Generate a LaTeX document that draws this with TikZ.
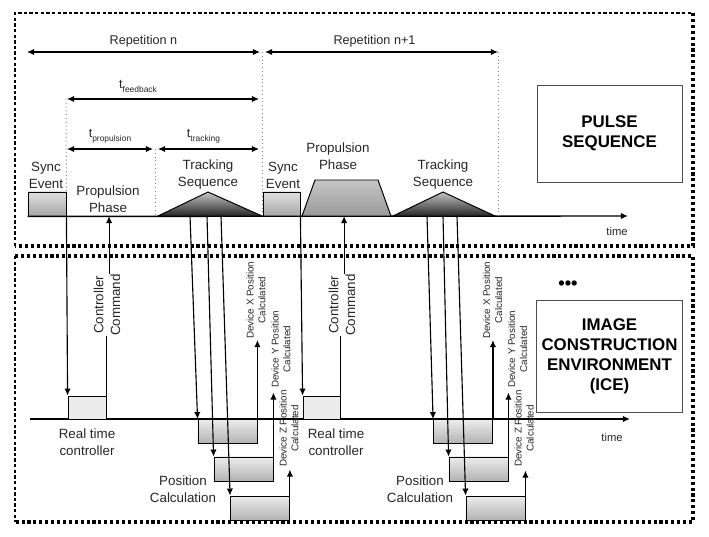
\documentclass[tikz,border=0pt]{standalone}
\usepackage{fontspec}
\setmainfont{Liberation Sans}
\usetikzlibrary{positioning}
\usetikzlibrary{arrows.meta}
\begin{document}
\begin{tikzpicture}[
		x=0.025cm, y=-0.025cm,
		>={Latex[length=5pt, width=4.5pt]},
		every node/.style={text=black!85},
		conn/.style={line width=0.8pt},
		guide/.style={draw=gray, dotted, line width=0.7pt},
		thindash/.style={line width=1.1pt, dash pattern=on 2.4pt off 1.6pt},
		thickdot/.style={line width=2.6pt, dash pattern=on 2.2pt off 2pt},
		lbl/.style={font=\fontsize{9.5}{12}\selectfont, align=center, inner sep=0pt},
		replbl/.style={font=\fontsize{9}{11}\selectfont, inner sep=0pt},
		devlbl/.style={font=\fontsize{7}{8.5}\selectfont, align=center, rotate=90, anchor=west, inner sep=0pt},
		timelbl/.style={font=\fontsize{8}{10}\selectfont, inner sep=0pt},
		syncbox/.style={rectangle, draw, line width=0.6pt, top color=gray!25, bottom color=gray!70, minimum width=0.95cm, minimum height=0.6cm, inner sep=0pt},
		ctrlbox/.style={rectangle, draw, line width=0.6pt, fill=gray!15, minimum width=0.95cm, minimum height=0.575cm, inner sep=0pt},
		posbox/.style={rectangle, draw, line width=0.6pt, top color=gray!15, bottom color=gray!60, minimum width=1.475cm, minimum height=0.6cm, inner sep=0pt},
		infobox/.style={rectangle, draw=black!70, line width=0.6pt, minimum width=3.625cm, align=center, text=black, font=\fontsize{12}{14.2}\selectfont\bfseries}
	]
		\useasboundingbox (0,0) rectangle (709,537);
		
		% frames
		\draw[thindash] (15,246) -- (15,13) -- (693,13);
		\draw[thickdot] (693,13) -- (693,246) -- (15,246);
		\draw[thickdot] (15,256) -- (693,256) -- (693,522) -- (15,522);
		\draw[thindash] (15,256) -- (15,522);
		
		% pulse sequence
		\draw node[syncbox](S1) at (47,204){};
		\draw node[syncbox, minimum width=0.925cm](S2) at (281.5,204){};
		\draw[conn, line width=1pt, ->] (S1.south west) -- (628,216) coordinate(T1);
		\node[timelbl] (timeT) at (617,231) {time};
		
		\draw[line width=0.7pt, top color=gray!45, bottom color=black!85] (158,216) -- (208,192) coordinate(TR1) -- (262,216) -- cycle;
		\draw[line width=0.7pt, top color=gray!45, bottom color=gray!80] (302,216) -- (315,180) -- (378,180) -- (391,216) -- cycle;
		\draw[line width=0.7pt, top color=gray!45, bottom color=black!85] (393,216) -- (443,192) coordinate(TR2) -- (495,216) -- cycle;
		
		\node[lbl] (SE1) at (46,175) {Sync\\Event};
		\node[lbl] (PP1) at (108,199) {Propulsion\\Phase};
		\node[lbl] (TS1) at (208,174.5) {Tracking\\Sequence};
		\node[lbl] (SE2) at (283,175) {Sync\\Event};
		\node[lbl] (PP2) at (338,156.5) {Propulsion\\Phase};
		\node[lbl] (TS2) at (443,174.5) {Tracking\\Sequence};
		
		\node[infobox, minimum height=2.425cm] (PS) at (609.5,133.5) {PULSE\\SEQUENCE};
		
		% timing
		\draw[guide] (262,52) -- (262,216);
		\draw[guide] (498,52) -- (498,216);
		\draw[guide] (66,99) -- (S1.north east);
		\draw[guide] (155,149) -- (155,216);
		
		\draw[conn, <->] (27,52) -- node[replbl, above=3pt](RN){Repetition n} (260,52);
		\draw[conn, <->] (265,52) -- node[replbl, pos=0.47, above=3pt](RN1){Repetition n+1} (498,52);
		\draw[conn, <->] (67,99) -- node[replbl, pos=0.37, above=4pt](TF){t\raisebox{-0.3em}{\fontsize{6}{7}\selectfont feedback}} (259,99);
		\draw[conn, <->] (67,149) -- node[replbl, above=4pt](TP){t\raisebox{-0.3em}{\fontsize{6}{7}\selectfont propulsion}} (153,149);
		\draw[conn, <->] (158,149) -- node[replbl, pos=0.45, above=4pt](TT){t\raisebox{-0.3em}{\fontsize{6}{7}\selectfont tracking}} (259,149);
		
		% image construction environment
		\draw[conn, line width=1pt, ->] (30,419) -- (630,419) coordinate(B1);
		\node[timelbl] (timeB) at (612,437) {time};
		\node[infobox, minimum height=2.8cm] (ICE) at (609.5,356) {IMAGE\\CONSTRUCTION\\ENVIRONMENT\\(ICE)};
		\node[font=\fontsize{13}{13}\selectfont\bfseries, text=black] (dots) at (568,285) {•••};
		
		\draw node[ctrlbox](RT1) at (87,407.5){};
		\draw node[ctrlbox, minimum width=0.925cm](RT2) at (321.5,407.5){};
		\node[lbl] (RTL1) at (87,442) {Real time\\controller};
		\node[lbl] (RTL2) at (336,442) {Real time\\controller};
		
		\draw node[posbox](PX1) at (227.5,431.5){};
		\draw node[posbox](PY1) at (243.5,469){};
		\draw node[posbox](PZ1) at (260,508){};
		\draw node[posbox](PX2) at (463,431.5){};
		\draw node[posbox](PY2) at (478.5,469){};
		\draw node[posbox](PZ2) at (495.5,508){};
		\node[lbl] (PC1) at (183,489) {Position\\Calculation};
		\node[lbl] (PC2) at (420,489) {Position\\Calculation};
		
		% sync event to controller
		\draw[conn, ->] (S1.south east) -- (RT1.north west);
		\draw[conn, ->] (S2.south east) -- (RT2.north west);
		
		% controller command
		\node[lbl, rotate=90] (CC1) at (107,305) {Controller\\Command};
		\node[lbl, rotate=90] (CC2) at (342,305) {Controller\\Command};
		\draw[conn] (RT1.north east) -- (RT1.north east |- CC1.west);
		\draw[conn, ->] ([xshift=1.5pt] CC1.east) -- ([xshift=1.5pt] CC1.east |- T1);
		\draw[conn] (RT2.north east) -- (RT2.north east |- CC2.west);
		\draw[conn, ->] ([xshift=1.5pt] CC2.east) -- ([xshift=1.5pt] CC2.east |- T1);
		
		% tracking to position calculation
		\draw[conn, ->] (190,216) -- (PX1.north west);
		\draw[conn, ->] (207,216) -- (PY1.north west);
		\draw[conn, ->] (221,216) -- (PZ1.north west);
		\draw[conn, ->] (427,216) -- (PX2.north west);
		\draw[conn, ->] (443,216) -- (PY2.north west);
		\draw[conn, ->] (457,216) -- (PZ2.north west);
		
		% positions calculated
		\draw[conn, ->] (PX1.north east) -- ++(0,-79) coordinate(OX1);
		\draw[conn, ->] (PY1.north east) -- ++(0,-64) coordinate(OY1);
		\draw[conn, ->] (PZ1.north east) -- ++(0,-26) coordinate(OZ1);
		\draw[conn, ->] (PX2.north east) -- ++(0,-79) coordinate(OX2);
		\draw[conn, ->] (PY2.north east) -- ++(0,-64) coordinate(OY2);
		\draw[conn, ->] (PZ2.north east) -- ++(0,-25) coordinate(OZ2);
		\node[devlbl] (DX1) at (256,339) {Device X Position\\Calculated};
		\node[devlbl] (DY1) at (281,388) {Device Y Position\\Calculated};
		\node[devlbl] (DZ1) at (289,467) {Device Z Position\\Calculated};
		\node[devlbl] (DX2) at (492.5,339) {Device X Position\\Calculated};
		\node[devlbl] (DY2) at (517.5,388) {Device Y Position\\Calculated};
		\node[devlbl] (DZ2) at (524,467) {Device Z Position\\Calculated};
	\end{tikzpicture}
\end{document}
